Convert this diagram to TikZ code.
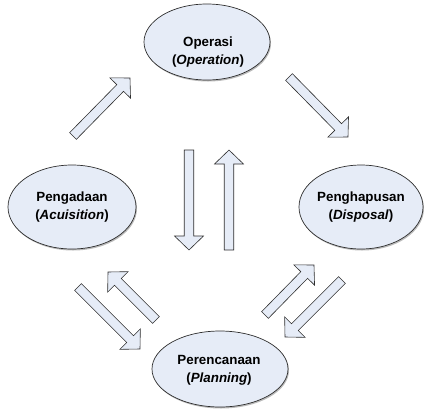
\documentclass[tikz,border=0pt]{standalone}
\usepackage{fontspec}
\setmainfont{Liberation Sans}
\usetikzlibrary{calc,shadows,shapes.geometric}
\definecolor{fillc}{HTML}{E6ECF7}
\definecolor{linec}{HTML}{2E2E2E}
\tikzset{
  ell/.style={ellipse, draw=linec, line width=0.7bp, fill=fillc, inner sep=0pt,
    drop shadow={shadow xshift=1bp, shadow yshift=-1.5bp, fill=black!45, opacity=0.6}},
  txt/.style={align=center, font=\bfseries\fontsize{13.4}{18}\selectfont, inner sep=0pt},
  barrow/.style={draw=linec, line width=0.6bp, fill=fillc, line join=miter}
}
\newcommand\blockarrow[2]{%
  \coordinate (#1h) at ($(#2)!14bp!(#1)$);
  \draw[barrow] ($(#1)!4.75bp!90:(#2)$) -- ($(#1h)!4.75bp!90:(#2)$) -- ($(#1h)!14.5bp!90:(#2)$) -- (#2)
    -- ($(#1h)!14.5bp!-90:(#2)$) -- ($(#1h)!4.75bp!-90:(#2)$) -- ($(#1)!4.75bp!-90:(#2)$) -- cycle;}
\begin{document}
\begin{tikzpicture}[x=1bp,y=-1bp]
\useasboundingbox (0,0) rectangle (424,409);
% ellipses
\node[ell, minimum width=126bp, minimum height=76bp] (op) at (207,42) {};
\node[txt] (opt) at (208,52) {Operasi\\(\textit{Operation})};
\node[ell, minimum width=128bp, minimum height=84bp] (pg) at (72,207) {};
\node[txt] (pgt) at (72,207) {Pengadaan\\(\textit{Acuisition})};
\node[ell, minimum width=124bp, minimum height=84bp] (ph) at (361,207) {};
\node[txt] (pht) at (361,207) {Penghapusan\\(\textit{Disposal})};
\node[ell, minimum width=136bp, minimum height=76bp] (pr) at (220,369) {};
\node[txt] (prt) at (219,370) {Perencanaan\\(\textit{Planning})};
% arrow end points
\coordinate (t1) at (73,136);   \coordinate (p1) at (130,78);
\coordinate (t2) at (289,77);   \coordinate (p2) at (348,137);
\coordinate (t3) at (189,150);  \coordinate (p3) at (189,250);
\coordinate (t4) at (229,250);  \coordinate (p4) at (229,150);
\coordinate (t5) at (78,287);   \coordinate (p5) at (140,349);
\coordinate (t6) at (156,320);  \coordinate (p6) at (108,272);
\coordinate (t7) at (265,315);  \coordinate (p7) at (314,265);
\coordinate (t8) at (342,280);  \coordinate (p8) at (285,337);
\blockarrow{t1}{p1}
\blockarrow{t2}{p2}
\blockarrow{t3}{p3}
\blockarrow{t4}{p4}
\blockarrow{t5}{p5}
\blockarrow{t6}{p6}
\blockarrow{t7}{p7}
\blockarrow{t8}{p8}
\end{tikzpicture}
\end{document}
